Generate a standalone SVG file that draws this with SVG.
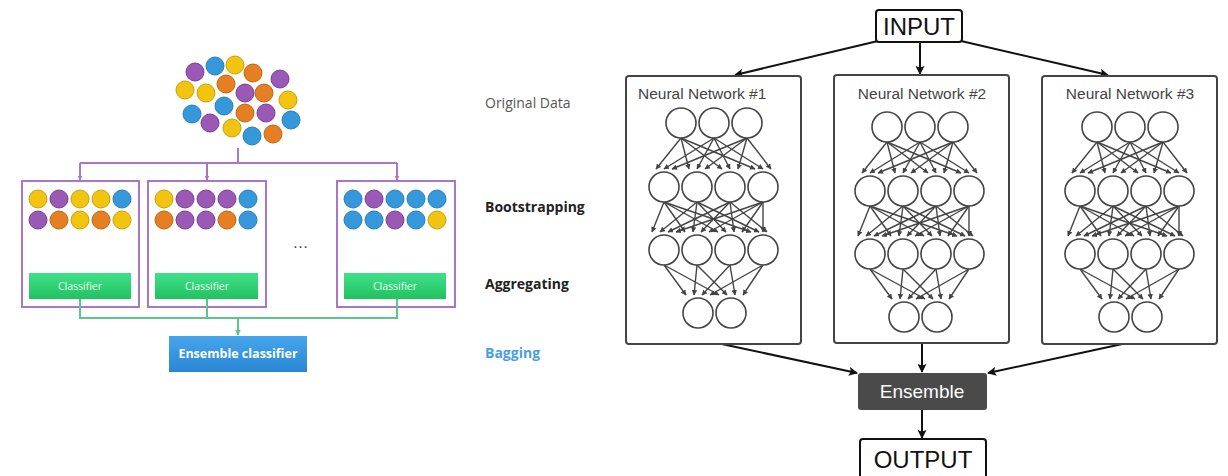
<svg xmlns="http://www.w3.org/2000/svg" width="1228" height="476" viewBox="0 0 1228 476">
<defs>
<style>
.p{fill:#9b59b6;stroke:#7d3c98;stroke-width:1}
.b{fill:#3498db;stroke:#2a7fb8;stroke-width:1}
.y{fill:#f1c40f;stroke:#c9a20a;stroke-width:1}
.o{fill:#e67e22;stroke:#bf661a;stroke-width:1}
.bag{fill:#fff;stroke:#a877c6;stroke-width:2}
.pl{fill:none;stroke:#a877c6;stroke-width:2}
.gl{fill:none;stroke:#5fc58c;stroke-width:2}
.cls{fill:url(#gg)}
.clt{font-family:"Open Sans","Liberation Sans",sans-serif;font-size:10.5px;fill:#eafff0;text-anchor:middle}
.lab{font-family:"Open Sans","Liberation Sans",sans-serif;font-size:14px}
.nn{fill:#fff;stroke:#444;stroke-width:2}
.neu{fill:#fff;stroke:#444;stroke-width:1.6}
.w{stroke:#444;stroke-width:1.4;fill:none;marker-end:url(#sa)}
.bk{stroke:#111;stroke-width:2;fill:none;marker-end:url(#ba)}
.tt{font-family:"Liberation Sans",Arial,sans-serif;font-size:15.5px;fill:#444}
.big{font-family:"Liberation Sans",Arial,sans-serif;font-size:24px;fill:#111;text-anchor:middle}
</style>
<linearGradient id="gg" x1="0" y1="0" x2="0" y2="1"><stop offset="0" stop-color="#3fe08a"/><stop offset="1" stop-color="#22c25f"/></linearGradient>
<linearGradient id="bg" x1="0" y1="0" x2="0" y2="1"><stop offset="0" stop-color="#45a6ec"/><stop offset="1" stop-color="#2a86d4"/></linearGradient>
<marker id="sa" viewBox="0 0 10 10" refX="9" refY="5" markerWidth="5.5" markerHeight="5.5" markerUnits="userSpaceOnUse" orient="auto"><path d="M0,0L10,5L0,10z" fill="#444"/></marker>
<marker id="ba" viewBox="0 0 10 10" refX="9" refY="5" markerWidth="9" markerHeight="9" markerUnits="userSpaceOnUse" orient="auto"><path d="M0,0L10,5L0,10L2,5z" fill="#111"/></marker>
<marker id="pa" viewBox="0 0 10 10" refX="9" refY="5" markerWidth="5" markerHeight="5" markerUnits="userSpaceOnUse" orient="auto"><path d="M0,0L10,5L0,10z" fill="#a877c6"/></marker>
<marker id="ga" viewBox="0 0 10 10" refX="9" refY="5" markerWidth="6" markerHeight="6" markerUnits="userSpaceOnUse" orient="auto"><path d="M0,0L10,5L0,10z" fill="#5fc58c"/></marker>
<g id="net">
<g>
<line class="w" x1="17" y1="15" x2="-8" y2="46"/><line class="w" x1="17" y1="15" x2="25" y2="46"/><line class="w" x1="17" y1="15" x2="58" y2="46"/><line class="w" x1="17" y1="15" x2="91" y2="46"/>
<line class="w" x1="50" y1="15" x2="0" y2="46"/><line class="w" x1="50" y1="15" x2="33" y2="46"/><line class="w" x1="50" y1="15" x2="66" y2="46"/><line class="w" x1="50" y1="15" x2="99" y2="46"/>
<line class="w" x1="83" y1="15" x2="8" y2="46"/><line class="w" x1="83" y1="15" x2="41" y2="46"/><line class="w" x1="83" y1="15" x2="74" y2="46"/><line class="w" x1="83" y1="15" x2="107" y2="46"/>
<line class="w" x1="0" y1="79" x2="-12" y2="109"/><line class="w" x1="0" y1="79" x2="21" y2="109"/><line class="w" x1="0" y1="79" x2="54" y2="109"/><line class="w" x1="0" y1="79" x2="87" y2="109"/>
<line class="w" x1="33" y1="79" x2="-4" y2="109"/><line class="w" x1="33" y1="79" x2="29" y2="109"/><line class="w" x1="33" y1="79" x2="62" y2="109"/><line class="w" x1="33" y1="79" x2="95" y2="109"/>
<line class="w" x1="66" y1="79" x2="4" y2="109"/><line class="w" x1="66" y1="79" x2="37" y2="109"/><line class="w" x1="66" y1="79" x2="70" y2="109"/><line class="w" x1="66" y1="79" x2="103" y2="109"/>
<line class="w" x1="99" y1="79" x2="12" y2="109"/><line class="w" x1="99" y1="79" x2="45" y2="109"/><line class="w" x1="99" y1="79" x2="78" y2="109"/><line class="w" x1="99" y1="79" x2="99" y2="109"/>
<line class="w" x1="0" y1="142" x2="22" y2="172"/><line class="w" x1="0" y1="142" x2="55" y2="172"/>
<line class="w" x1="33" y1="142" x2="30" y2="172"/><line class="w" x1="33" y1="142" x2="63" y2="172"/>
<line class="w" x1="66" y1="142" x2="38" y2="172"/><line class="w" x1="66" y1="142" x2="71" y2="172"/>
<line class="w" x1="99" y1="142" x2="46" y2="172"/><line class="w" x1="99" y1="142" x2="79" y2="172"/>
</g>
<circle class="neu" cx="17" cy="0" r="15"/><circle class="neu" cx="50" cy="0" r="15"/><circle class="neu" cx="83" cy="0" r="15"/>
<circle class="neu" cx="0" cy="64" r="15"/><circle class="neu" cx="33" cy="64" r="15"/><circle class="neu" cx="66" cy="64" r="15"/><circle class="neu" cx="99" cy="64" r="15"/>
<circle class="neu" cx="0" cy="127" r="15"/><circle class="neu" cx="33" cy="127" r="15"/><circle class="neu" cx="66" cy="127" r="15"/><circle class="neu" cx="99" cy="127" r="15"/>
<circle class="neu" cx="34" cy="190" r="15"/><circle class="neu" cx="67" cy="190" r="15"/>
</g>
</defs>
<rect width="1228" height="476" fill="#fff"/>

<!-- LEFT: bagging -->
<g id="connectors-left">
<polyline class="pl" points="238,148 238,163"/>
<polyline class="pl" points="80,163 397,163"/>
<line class="pl" x1="80" y1="163" x2="80" y2="180" marker-end="url(#pa)"/>
<line class="pl" x1="207" y1="163" x2="207" y2="180" marker-end="url(#pa)"/>
<line class="pl" x1="397" y1="163" x2="397" y2="180" marker-end="url(#pa)"/>
</g>
<g id="original-data">
<circle class="p" cx="195" cy="72" r="9"/><circle class="b" cx="215" cy="66" r="9"/><circle class="y" cx="235" cy="65" r="9"/><circle class="o" cx="253" cy="73" r="9"/><circle class="p" cx="280" cy="79" r="9"/>
<circle class="y" cx="185" cy="90" r="9"/><circle class="y" cx="206" cy="93" r="9"/><circle class="o" cx="226" cy="84" r="9"/><circle class="p" cx="245" cy="93" r="9"/><circle class="o" cx="264" cy="93" r="9"/><circle class="y" cx="288" cy="100" r="9"/>
<circle class="b" cx="192" cy="114" r="9"/><circle class="b" cx="224" cy="106" r="9"/><circle class="o" cx="245" cy="113" r="9"/><circle class="p" cx="266" cy="113" r="9"/><circle class="b" cx="291" cy="120" r="9"/>
<circle class="p" cx="210" cy="123" r="9"/><circle class="y" cx="232" cy="128" r="9"/><circle class="b" cx="252" cy="136" r="9"/><circle class="o" cx="273" cy="134" r="9"/>
</g>
<g id="bag1">
<rect class="bag" x="22" y="181" width="117" height="126"/>
<circle class="y" cx="38" cy="199" r="9"/><circle class="p" cx="59" cy="199" r="9"/><circle class="y" cx="80" cy="199" r="9"/><circle class="y" cx="101" cy="199" r="9"/><circle class="b" cx="122" cy="199" r="9"/>
<circle class="p" cx="38" cy="220" r="9"/><circle class="o" cx="59" cy="220" r="9"/><circle class="y" cx="80" cy="220" r="9"/><circle class="o" cx="101" cy="220" r="9"/><circle class="y" cx="122" cy="220" r="9"/>
<rect class="cls" x="29" y="273" width="102" height="26"/>
<text class="clt" x="80" y="290">Classifier</text>
</g>
<g id="bag2">
<rect class="bag" x="148" y="181" width="118" height="126"/>
<circle class="y" cx="164" cy="199" r="9"/><circle class="p" cx="185" cy="199" r="9"/><circle class="p" cx="206" cy="199" r="9"/><circle class="p" cx="227" cy="199" r="9"/><circle class="b" cx="248" cy="199" r="9"/>
<circle class="o" cx="164" cy="220" r="9"/><circle class="p" cx="185" cy="220" r="9"/><circle class="p" cx="206" cy="220" r="9"/><circle class="o" cx="227" cy="220" r="9"/><circle class="b" cx="248" cy="220" r="9"/>
<rect class="cls" x="155" y="273" width="103" height="26"/>
<text class="clt" x="207" y="290">Classifier</text>
</g>
<g id="dots"><text x="301" y="248" font-family="Liberation Sans,sans-serif" font-size="16" fill="#444" text-anchor="middle" letter-spacing="1">…</text></g>
<g id="bag3">
<rect class="bag" x="337" y="181" width="118" height="126"/>
<circle class="b" cx="353" cy="199" r="9"/><circle class="p" cx="374" cy="199" r="9"/><circle class="b" cx="395" cy="199" r="9"/><circle class="b" cx="416" cy="199" r="9"/><circle class="b" cx="437" cy="199" r="9"/>
<circle class="b" cx="353" cy="220" r="9"/><circle class="b" cx="374" cy="220" r="9"/><circle class="p" cx="395" cy="220" r="9"/><circle class="b" cx="416" cy="220" r="9"/><circle class="y" cx="437" cy="220" r="9"/>
<rect class="cls" x="344" y="273" width="102" height="26"/>
<text class="clt" x="395" y="290">Classifier</text>
</g>
<g id="connectors-aggregate">
<polyline class="gl" points="80,299 80,318 397,318 397,299"/>
<line class="gl" x1="207" y1="299" x2="207" y2="318"/>
<line class="gl" x1="238" y1="318" x2="238" y2="335" marker-end="url(#ga)"/>
</g>
<g id="ensemble-classifier">
<rect x="169" y="336" width="138" height="36" fill="url(#bg)"/>
<text x="238" y="358" font-family="Open Sans,Liberation Sans,sans-serif" font-size="12.5" font-weight="bold" fill="#fff" text-anchor="middle">Ensemble classifier</text>
</g>
<g id="stage-labels">
<text class="lab" x="485" y="108" fill="#555">Original Data</text>
<text class="lab" x="485" y="212" fill="#222" font-weight="bold">Bootstrapping</text>
<text class="lab" x="485" y="289" fill="#222" font-weight="bold">Aggregating</text>
<text class="lab" x="485" y="358" fill="#4a9fe0" font-weight="bold">Bagging</text>
</g>

<!-- RIGHT: ensemble of neural networks -->
<g id="connectors-right">
<line class="bk" x1="878" y1="41" x2="735" y2="75"/>
<line class="bk" x1="920" y1="42" x2="920" y2="74"/>
<line class="bk" x1="961" y1="41" x2="1108" y2="75"/>
<line class="bk" x1="717" y1="343" x2="857" y2="373"/>
<line class="bk" x1="922" y1="343" x2="922" y2="372"/>
<line class="bk" x1="1127" y1="343" x2="988" y2="373"/>
<line class="bk" x1="922" y1="410" x2="922" y2="438"/>
</g>
<g id="input">
<rect x="876" y="10" width="86" height="32" rx="3" fill="#fff" stroke="#111" stroke-width="2"/>
<text class="big" x="919" y="35">INPUT</text>
</g>
<g id="nn1">
<rect class="nn" x="626" y="76" width="175" height="268" rx="3"/>
<text class="tt" x="638" y="99">Neural Network #1</text>
<use href="#net" transform="translate(664,123)"/>
</g>
<g id="nn2">
<rect class="nn" x="834" y="75" width="175" height="268" rx="3"/>
<text class="tt" x="922" y="99" text-anchor="middle">Neural Network #2</text>
<use href="#net" transform="translate(870,127)"/>
</g>
<g id="nn3">
<rect class="nn" x="1042" y="76" width="175" height="268" rx="3"/>
<text class="tt" x="1130" y="99" text-anchor="middle">Neural Network #3</text>
<use href="#net" transform="translate(1080,127)"/>
</g>
<g id="ensemble">
<rect x="858" y="373" width="129" height="37" rx="3" fill="#4a4a4a"/>
<text x="922" y="398" font-family="Liberation Sans,Arial,sans-serif" font-size="19" fill="#fff" text-anchor="middle">Ensemble</text>
</g>
<g id="output">
<rect x="860" y="439" width="126" height="40" rx="3" fill="#fff" stroke="#111" stroke-width="2"/>
<text class="big" x="923" y="468">OUTPUT</text>
</g>
</svg>
